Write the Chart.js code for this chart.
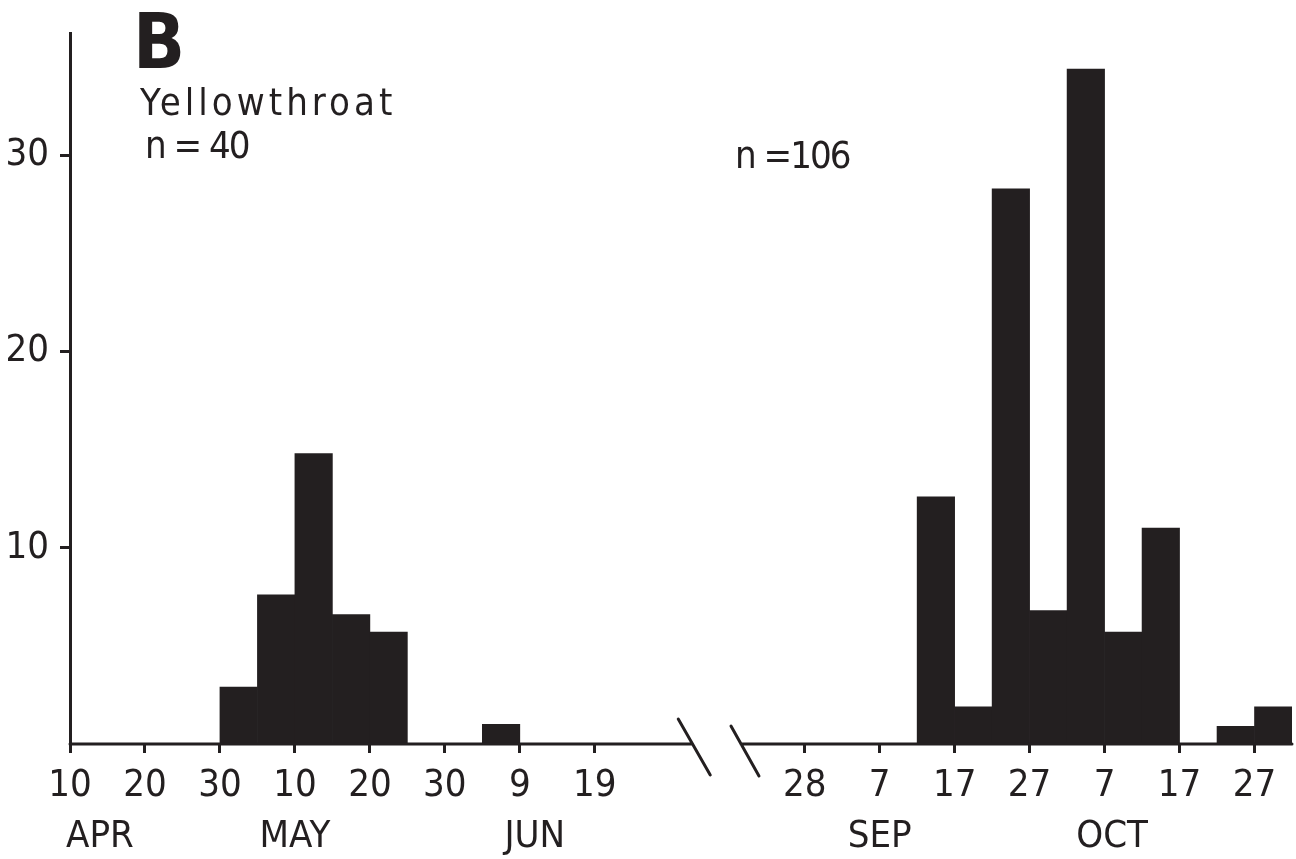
<!DOCTYPE html>
<html>
<head>
<meta charset="utf-8">
<script src="https://cdn.jsdelivr.net/npm/chart.js@4.4.1/dist/chart.umd.min.js"></script>
<style>
  html, body { margin: 0; padding: 0; background: #fff; }
</style>
</head>
<body>
<canvas id="chart" width="1296" height="859"></canvas>
<script>
// 5-day bins, start date of each bin (MM-DD) and its count
const springBins = ["04-30", "05-05", "05-10", "05-15", "05-20", "06-04"];
const springCounts = [2.9, 7.6, 14.8, 6.6, 5.7, 1.0];
const fallBins = ["09-12", "09-17", "09-22", "09-27", "10-02", "10-07", "10-12", "10-22", "10-27"];
const fallCounts = [12.6, 1.9, 28.3, 6.8, 34.4, 5.7, 11.0, 0.9, 1.9];

const springTicks = ["04-10", "04-20", "04-30", "05-10", "05-20", "05-30", "06-09", "06-19"];
const fallTicks = ["08-28", "09-07", "09-17", "09-27", "10-07", "10-17", "10-27"];
const monthLabels = ["APR", "MAY", "JUN", "SEP", "OCT"];
const monthAt = ["04-14", "05-10", "06-11", "09-07", "10-08"];
const yTicks = [10, 20, 30];

const INK = "#231f20";
const FONT = "'Liberation Sans Narrow', 'DejaVu Sans Condensed', 'Roboto', sans-serif";

// axis runs in days; fall part is shifted to sit right after the axis break
function doy(md) {
  const [m, d] = md.split("-").map(Number);
  return Date.UTC(1990, m - 1, d) / 864e5;
}
const SPRING0 = doy("04-10");
const FALL0 = doy("08-28");
const FALL_AT = 98;
const X_MAX = FALL_AT + 65;
const BREAK_L = 83;
const BREAK_R = 89.5;
function axisDay(md) {
  const d = doy(md);
  return d < doy("07-15") ? d - SPRING0 : FALL_AT + d - FALL0;
}

const bars = [
  ...springBins.map((b, i) => ({ x: axisDay(b) + 2.5, y: springCounts[i] })),
  ...fallBins.map((b, i) => ({ x: axisDay(b) + 2.5, y: fallCounts[i] }))
];

const dayTickLabels = {};
[...springTicks, ...fallTicks].forEach(t => {
  dayTickLabels[axisDay(t)] = String(Number(t.split("-")[1]));
});
const monthTickLabels = {};
monthAt.forEach((t, i) => { monthTickLabels[axisDay(t)] = monthLabels[i]; });

Chart.defaults.font.family = FONT;
Chart.defaults.color = INK;

const decor = {
  id: "decor",
  afterDraw(chart) {
    const { ctx, scales: { x, y } } = chart;
    const y0 = y.getPixelForValue(0);
    ctx.save();
    ctx.strokeStyle = INK;
    ctx.lineWidth = 3;
    ctx.lineCap = "round";
    ctx.beginPath();
    ctx.moveTo(x.getPixelForValue(0), y0);
    ctx.lineTo(x.getPixelForValue(BREAK_L), y0);
    ctx.moveTo(x.getPixelForValue(BREAK_R), y0);
    ctx.lineTo(x.right, y0);
    const b1 = x.getPixelForValue(BREAK_L);
    ctx.moveTo(b1 - 14, y0 - 25);
    ctx.lineTo(b1 + 18, y0 + 31);
    const b2 = x.getPixelForValue(BREAK_R);
    ctx.moveTo(b2 - 10, y0 - 18);
    ctx.lineTo(b2 + 18, y0 + 32);
    ctx.stroke();

    ctx.fillStyle = INK;
    ctx.textBaseline = "alphabetic";
    ctx.textAlign = "left";
    ctx.font = "bold 76px " + FONT;
    ctx.fillText("B", 133, 68);
    ctx.font = "38px " + FONT;
    ctx.letterSpacing = "4px";
    ctx.fillText("Yellowthroat", 140, 115);
    ctx.letterSpacing = "-2px";
    ctx.fillText("n = 40", 145, 158);
    ctx.fillText("n =106", 735, 168);
    ctx.restore();
  }
};

new Chart(document.getElementById("chart"), {
  type: "bar",
  data: {
    datasets: [{
      data: bars,
      backgroundColor: INK,
      borderWidth: 0,
      barPercentage: 1,
      categoryPercentage: 1
    }]
  },
  options: {
    responsive: false,
    animation: false,
    devicePixelRatio: 1,
    layout: { padding: { top: 33, right: 4, left: 0, bottom: 0 } },
    plugins: { legend: { display: false }, tooltip: { enabled: false } },
    scales: {
      x: {
        type: "linear",
        position: "bottom",
        offset: false,
        min: 0,
        max: X_MAX,
        afterBuildTicks: s => { s.ticks = Object.keys(dayTickLabels).map(v => ({ value: Number(v) })); },
        afterFit: s => { s.height = 62; },
        grid: { offset: false, drawOnChartArea: false, drawTicks: true, tickLength: 9, tickWidth: 3, tickColor: INK },
        border: { display: false },
        ticks: {
          autoSkip: false,
          maxRotation: 0,
          padding: 10,
          font: { size: 38 },
          callback: v => dayTickLabels[v] || ""
        }
      },
      xm: {
        type: "linear",
        position: "bottom",
        offset: false,
        min: 0,
        max: X_MAX,
        afterBuildTicks: s => { s.ticks = Object.keys(monthTickLabels).map(v => ({ value: Number(v) })); },
        afterFit: s => { s.height = 53; },
        grid: { display: false, offset: false },
        border: { display: false },
        ticks: {
          autoSkip: false,
          maxRotation: 0,
          padding: 0,
          font: { size: 38 },
          callback: v => monthTickLabels[v] || ""
        }
      },
      y: {
        min: 0,
        max: 36.2,
        afterBuildTicks: s => { s.ticks = yTicks.map(v => ({ value: v })); },
        afterFit: s => { s.width = 70; },
        grid: { drawOnChartArea: false, drawTicks: true, tickLength: 10, tickWidth: 3, tickColor: INK },
        border: { display: true, color: INK, width: 3 },
        ticks: { padding: 11, font: { size: 38 } }
      }
    }
  },
  plugins: [decor]
});
</script>
</body>
</html>
